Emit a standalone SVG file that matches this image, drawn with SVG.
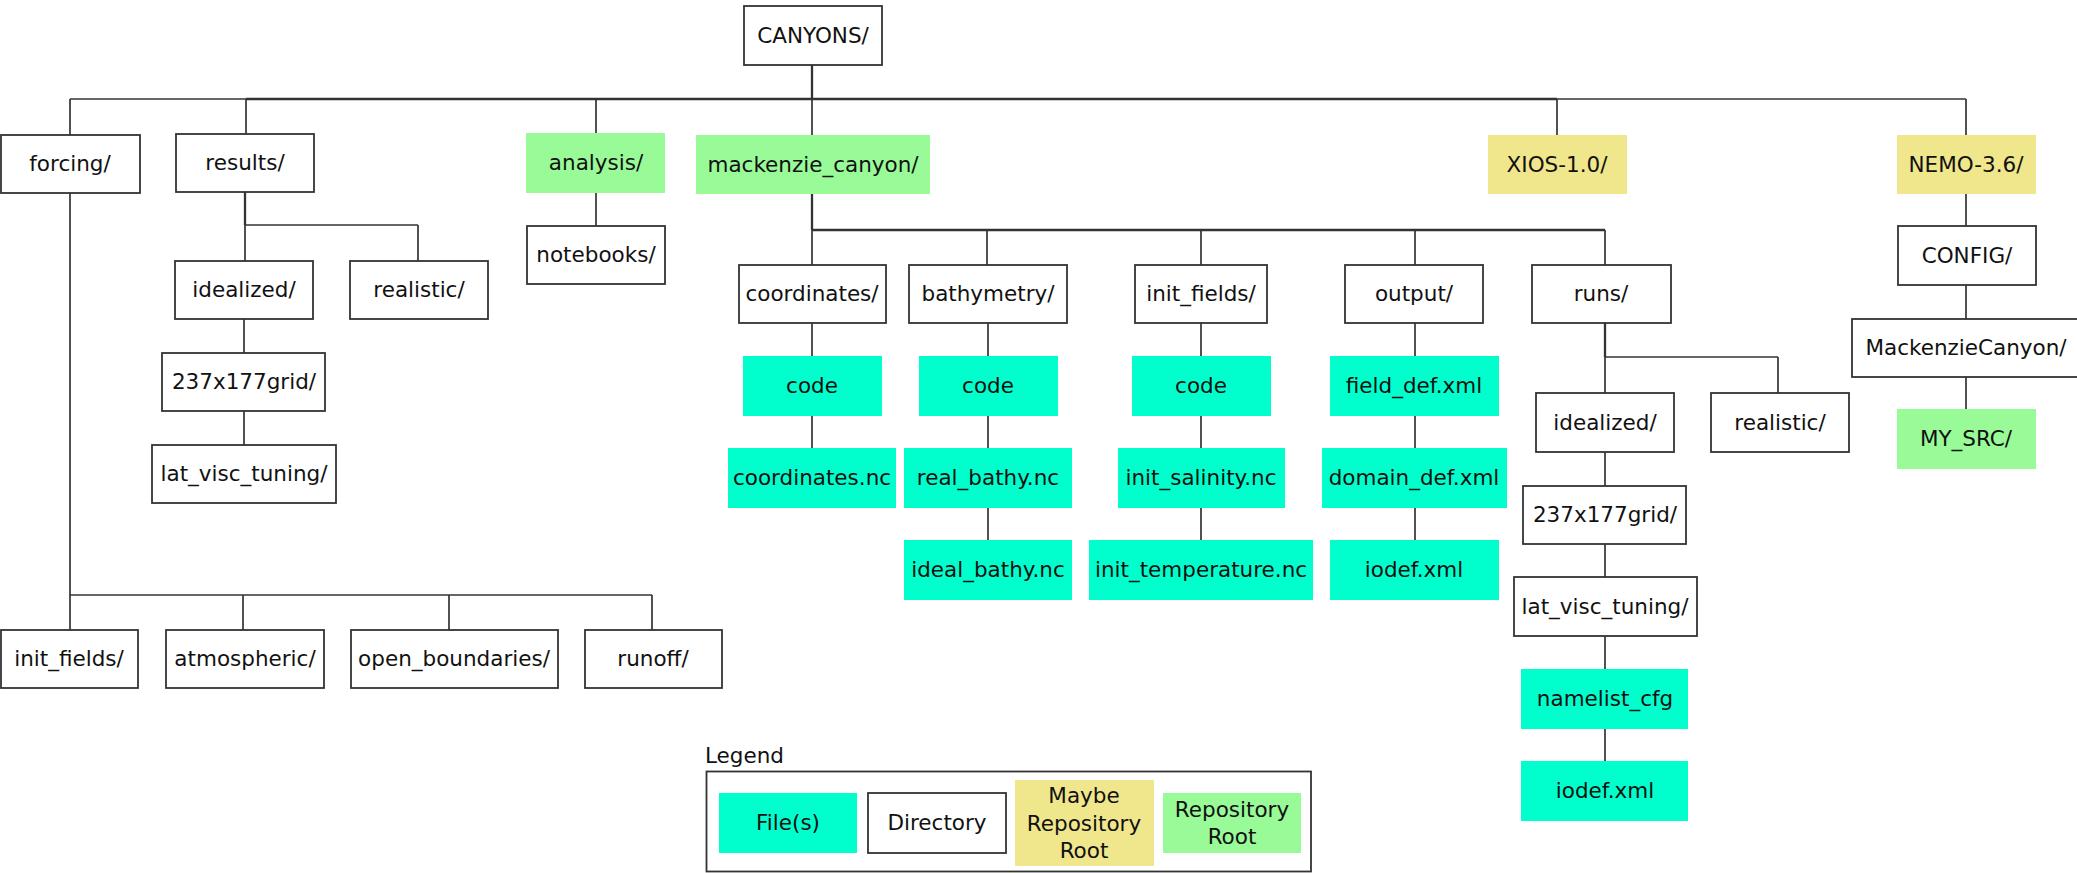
<svg xmlns="http://www.w3.org/2000/svg" width="2077" height="873" viewBox="0 0 2077 873">
<style>
.d{fill:#ffffff;stroke:#333333;stroke-width:1.8}
.f{fill:#00ffcc}
.g{fill:#98fb98}
.y{fill:#f0e68c}
text{font-family:"DejaVu Sans","Liberation Sans",sans-serif;font-size:21.5px;fill:#111111;text-anchor:middle}
.c line,.c polyline{stroke:#333333;stroke-width:1.7;fill:none}
.c .t{stroke-width:2.3}
</style>
<rect width="2077" height="873" fill="#ffffff"/>
<g class="c" id="connectors">
<line x1="812" y1="65" x2="812" y2="99" class="t"/>
<line x1="70" y1="99" x2="1966" y2="99"/>
<line x1="246" y1="99" x2="1557" y2="99" class="t"/>
<line x1="70" y1="99" x2="70" y2="135"/>
<line x1="246" y1="99" x2="246" y2="134"/>
<line x1="596" y1="99" x2="596" y2="133"/>
<line x1="812" y1="99" x2="812" y2="135"/>
<line x1="1557" y1="99" x2="1557" y2="135"/>
<line x1="1966" y1="99" x2="1966" y2="135"/>
<line x1="70" y1="193" x2="70" y2="630"/>
<line x1="70" y1="595" x2="652" y2="595"/>
<line x1="243" y1="595" x2="243" y2="630"/>
<line x1="449" y1="595" x2="449" y2="630"/>
<line x1="652" y1="595" x2="652" y2="630"/>
<line x1="245" y1="192" x2="245" y2="225" class="t"/>
<line x1="245" y1="225" x2="418" y2="225"/>
<line x1="245" y1="225" x2="245" y2="261"/>
<line x1="418" y1="225" x2="418" y2="261"/>
<line x1="244" y1="319" x2="244" y2="353"/>
<line x1="244" y1="411" x2="244" y2="445"/>
<line x1="596" y1="193" x2="596" y2="226"/>
<line x1="812" y1="194" x2="812" y2="230" class="t"/>
<line x1="812" y1="230" x2="1605" y2="230" class="t"/>
<line x1="812" y1="230" x2="812" y2="265"/>
<line x1="987" y1="230" x2="987" y2="265"/>
<line x1="1201" y1="230" x2="1201" y2="265"/>
<line x1="1415" y1="230" x2="1415" y2="265"/>
<line x1="1605" y1="230" x2="1605" y2="265"/>
<line x1="812" y1="323" x2="812" y2="356"/>
<line x1="812" y1="416" x2="812" y2="448"/>
<line x1="988" y1="323" x2="988" y2="356"/>
<line x1="988" y1="416" x2="988" y2="448"/>
<line x1="988" y1="508" x2="988" y2="540"/>
<line x1="1201" y1="323" x2="1201" y2="356"/>
<line x1="1201" y1="416" x2="1201" y2="448"/>
<line x1="1201" y1="508" x2="1201" y2="540"/>
<line x1="1415" y1="323" x2="1415" y2="356"/>
<line x1="1415" y1="416" x2="1415" y2="448"/>
<line x1="1415" y1="508" x2="1415" y2="540"/>
<line x1="1605" y1="323" x2="1605" y2="357" class="t"/>
<line x1="1605" y1="357" x2="1778" y2="357"/>
<line x1="1605" y1="357" x2="1605" y2="393"/>
<line x1="1778" y1="357" x2="1778" y2="393"/>
<line x1="1605" y1="452" x2="1605" y2="486"/>
<line x1="1605" y1="544" x2="1605" y2="577"/>
<line x1="1605" y1="636" x2="1605" y2="669"/>
<line x1="1605" y1="729" x2="1605" y2="761"/>
<line x1="1966" y1="194" x2="1966" y2="226"/>
<line x1="1966" y1="285" x2="1966" y2="319"/>
<line x1="1966" y1="377" x2="1966" y2="409"/>
</g>
<g id="canyons"><rect class="d" x="744" y="6" width="138" height="59"/><text x="813" y="43">CANYONS/</text></g>
<g id="forcing"><rect class="d" x="1" y="135" width="139" height="58"/><text x="70" y="171">forcing/</text></g>
<g id="results"><rect class="d" x="176" y="134" width="138" height="58"/><text x="245" y="170">results/</text></g>
<g id="analysis"><rect class="g" x="526" y="133" width="139" height="60"/><text x="596" y="170">analysis/</text></g>
<g id="mackenzie_canyon"><rect class="g" x="696" y="135" width="234" height="59"/><text x="813" y="172">mackenzie_canyon/</text></g>
<g id="xios"><rect class="y" x="1488" y="135" width="139" height="59"/><text x="1557" y="172">XIOS-1.0/</text></g>
<g id="nemo"><rect class="y" x="1897" y="135" width="139" height="59"/><text x="1966" y="172">NEMO-3.6/</text></g>
<g id="notebooks"><rect class="d" x="527" y="226" width="138" height="58"/><text x="596" y="262">notebooks/</text></g>
<g id="results_idealized"><rect class="d" x="175" y="261" width="138" height="58"/><text x="244" y="297">idealized/</text></g>
<g id="results_realistic"><rect class="d" x="350" y="261" width="138" height="58"/><text x="419" y="297">realistic/</text></g>
<g id="results_grid"><rect class="d" x="162" y="353" width="163" height="58"/><text x="244" y="389">237x177grid/</text></g>
<g id="results_latvisc"><rect class="d" x="152" y="445" width="184" height="58"/><text x="244" y="481">lat_visc_tuning/</text></g>
<g id="forcing_init_fields"><rect class="d" x="1" y="630" width="137" height="58"/><text x="69" y="666">init_fields/</text></g>
<g id="atmospheric"><rect class="d" x="166" y="630" width="158" height="58"/><text x="245" y="666">atmospheric/</text></g>
<g id="open_boundaries"><rect class="d" x="351" y="630" width="207" height="58"/><text x="454" y="666">open_boundaries/</text></g>
<g id="runoff"><rect class="d" x="585" y="630" width="137" height="58"/><text x="653" y="666">runoff/</text></g>
<g id="coordinates"><rect class="d" x="739" y="265" width="147" height="58"/><text x="812" y="301">coordinates/</text></g>
<g id="bathymetry"><rect class="d" x="909" y="265" width="158" height="58"/><text x="988" y="301">bathymetry/</text></g>
<g id="mc_init_fields"><rect class="d" x="1135" y="265" width="132" height="58"/><text x="1201" y="301">init_fields/</text></g>
<g id="output"><rect class="d" x="1345" y="265" width="138" height="58"/><text x="1414" y="301">output/</text></g>
<g id="runs"><rect class="d" x="1532" y="265" width="139" height="58"/><text x="1601" y="301">runs/</text></g>
<g id="code_coords"><rect class="f" x="743" y="356" width="139" height="60"/><text x="812" y="393">code</text></g>
<g id="coordinates_nc"><rect class="f" x="728" y="448" width="168" height="60"/><text x="812" y="485">coordinates.nc</text></g>
<g id="code_bathy"><rect class="f" x="919" y="356" width="139" height="60"/><text x="988" y="393">code</text></g>
<g id="real_bathy"><rect class="f" x="904" y="448" width="168" height="60"/><text x="988" y="485">real_bathy.nc</text></g>
<g id="ideal_bathy"><rect class="f" x="904" y="540" width="168" height="60"/><text x="988" y="577">ideal_bathy.nc</text></g>
<g id="code_init"><rect class="f" x="1132" y="356" width="139" height="60"/><text x="1201" y="393">code</text></g>
<g id="init_salinity"><rect class="f" x="1118" y="448" width="167" height="60"/><text x="1201" y="485">init_salinity.nc</text></g>
<g id="init_temperature"><rect class="f" x="1089" y="540" width="224" height="60"/><text x="1201" y="577">init_temperature.nc</text></g>
<g id="field_def"><rect class="f" x="1330" y="356" width="169" height="60"/><text x="1414" y="393">field_def.xml</text></g>
<g id="domain_def"><rect class="f" x="1322" y="448" width="185" height="60"/><text x="1414" y="485">domain_def.xml</text></g>
<g id="output_iodef"><rect class="f" x="1330" y="540" width="169" height="60"/><text x="1414" y="577">iodef.xml</text></g>
<g id="runs_idealized"><rect class="d" x="1536" y="393" width="138" height="59"/><text x="1605" y="430">idealized/</text></g>
<g id="runs_realistic"><rect class="d" x="1711" y="393" width="138" height="59"/><text x="1780" y="430">realistic/</text></g>
<g id="runs_grid"><rect class="d" x="1523" y="486" width="163" height="58"/><text x="1605" y="522">237x177grid/</text></g>
<g id="runs_latvisc"><rect class="d" x="1514" y="577" width="183" height="59"/><text x="1605" y="614">lat_visc_tuning/</text></g>
<g id="namelist_cfg"><rect class="f" x="1521" y="669" width="167" height="60"/><text x="1605" y="706">namelist_cfg</text></g>
<g id="runs_iodef"><rect class="f" x="1521" y="761" width="167" height="60"/><text x="1605" y="798">iodef.xml</text></g>
<g id="config"><rect class="d" x="1898" y="226" width="138" height="59"/><text x="1967" y="263">CONFIG/</text></g>
<g id="mackenziecanyon"><rect class="d" x="1852" y="319" width="230" height="58"/><text x="1966" y="355">MackenzieCanyon/</text></g>
<g id="my_src"><rect class="g" x="1897" y="409" width="139" height="60"/><text x="1966" y="446">MY_SRC/</text></g>
<g id="legend">
<text x="705" y="763" style="text-anchor:start">Legend</text>
<rect x="706.5" y="771.5" width="604.5" height="100" fill="none" stroke="#333333" stroke-width="1.8"/>
<rect class="f" x="719" y="793" width="138" height="60"/><text x="788" y="830">File(s)</text>
<rect class="d" x="868" y="793" width="138" height="60"/><text x="937" y="830">Directory</text>
<rect class="y" x="1015" y="780" width="139" height="86"/><text x="1084" y="803">Maybe</text><text x="1084" y="830.5">Repository</text><text x="1084" y="858">Root</text>
<rect class="g" x="1163" y="793" width="138" height="60"/><text x="1232" y="816.5">Repository</text><text x="1232" y="844">Root</text>
</g>
</svg>
